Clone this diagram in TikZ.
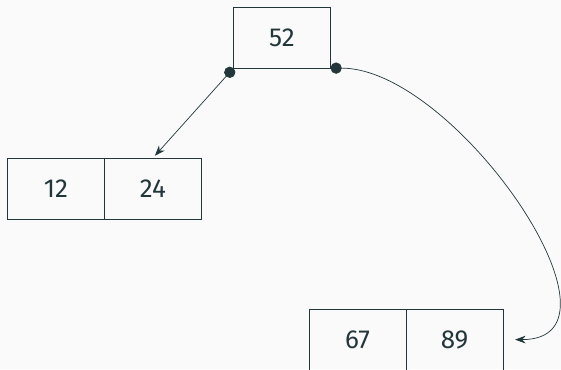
\documentclass[tikz,border=0pt]{standalone}
\usepackage{fontspec}
\setmainfont{Fira Sans}
\usetikzlibrary{positioning}
\usetikzlibrary{arrows.meta}
\definecolor{inkcol}{HTML}{23373B}
\definecolor{bgcol}{HTML}{FAFAFA}
\tikzset{
	keybox/.style={draw=inkcol, line width=0.5pt, text=inkcol, minimum width=2.425cm, minimum height=1.525cm, inner sep=0pt, outer sep=0pt, font=\fontsize{18.5}{20}\selectfont},
	link/.style={draw=inkcol, line width=0.5pt, {Circle[length=8pt]}-{Stealth[length=7.5pt,width=5.5pt]}}
}
\begin{document}
\begin{tikzpicture}

	\fill[bgcol] (0,0) rectangle (14.025,-9.225);
	\useasboundingbox (0,0) rectangle (14.025,-9.225);

	\node[keybox] (root) at (7.05,-0.94) {52};

	\node[keybox] (l1) at (1.4,-4.71) {12};
	\node[keybox, right=0pt of l1] (l2) {24};

	\node[keybox] (r1) at (8.94,-8.49) {67};
	\node[keybox, right=0pt of r1] (r2) {89};

	\coordinate (rin) at ([xshift=0.3cm]r2.east);

	\draw[link, shorten >=2pt] (root.south west) -- (l2.north);
	\draw[link] (root.south east) to[out=0, in=0, looseness=0.98] (rin);

\end{tikzpicture}
\end{document}
